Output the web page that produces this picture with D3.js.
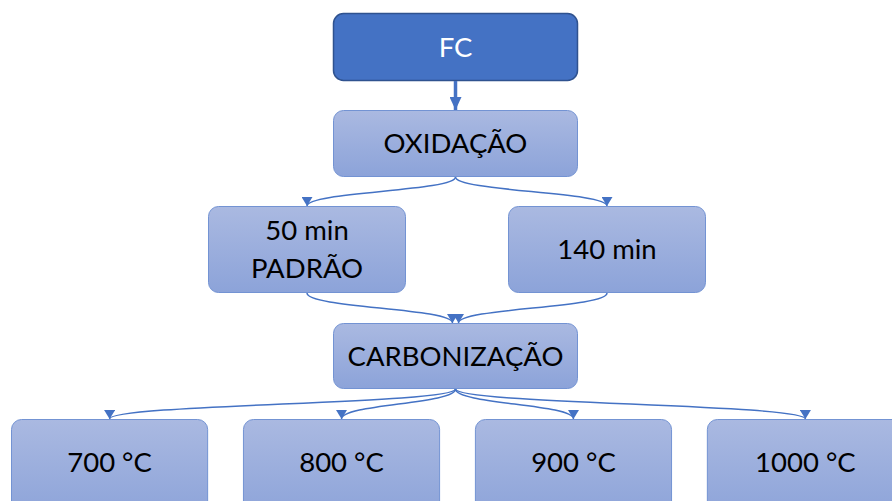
<!DOCTYPE html>
<html><head><meta charset="utf-8">
<script src="https://cdn.jsdelivr.net/npm/d3@7"></script>
<style>html,body{margin:0;padding:0;background:#fff;overflow:hidden}</style>
</head><body>
<svg id="c" width="892" height="501"></svg>
<script>
// ---- data ----
const row0 = ["FC"];
const row1 = ["OXIDAÇÃO"];
const row2 = ["50 min\nPADRÃO", "140 min"];
const row3 = ["CARBONIZAÇÃO"];
const row4 = ["700 °C", "800 °C", "900 °C", "1000 °C"];
const rows = [row0, row1, row2, row3, row4];
const links = [
  ["FC", "OXIDAÇÃO"],
  ["OXIDAÇÃO", "50 min\nPADRÃO"],
  ["OXIDAÇÃO", "140 min"],
  ["50 min\nPADRÃO", "CARBONIZAÇÃO"],
  ["140 min", "CARBONIZAÇÃO"],
  ["CARBONIZAÇÃO", "700 °C"],
  ["CARBONIZAÇÃO", "800 °C"],
  ["CARBONIZAÇÃO", "900 °C"],
  ["CARBONIZAÇÃO", "1000 °C"]
];

// ---- layout ----
const svg = d3.select("#c");
const rowY = d3.scaleOrdinal().domain([0,1,2,3,4]).range([13, 110, 206, 323, 419]);
const rowH = d3.scaleOrdinal().domain([0,1,2,3,4]).range([68, 67, 87, 66, 100]);
const xScales = [
  d3.scaleBand().domain(row0).range([333, 578]),
  d3.scaleBand().domain(row1).range([333, 578]),
  d3.scaleBand().domain(row2).range([208, 706]).paddingInner(0.34),
  d3.scaleBand().domain(row3).range([333, 578]),
  d3.scaleBand().domain(row4).range([11, 904]).paddingInner(0.15)
];
const nodes = [];
rows.forEach((r, i) => r.forEach(label => {
  const xs = xScales[i];
  nodes.push({label, row: i, x: xs(label), w: xs.bandwidth(), y: rowY(i), h: rowH(i)});
}));
const byLabel = new Map(nodes.map(n => [n.label, n]));

const defs = svg.append("defs");
const grad = defs.append("linearGradient").attr("id", "g").attr("x1", 0).attr("y1", 0).attr("x2", 0).attr("y2", 1);
grad.append("stop").attr("offset", "0%").attr("stop-color", "#AAB9E1");
grad.append("stop").attr("offset", "100%").attr("stop-color", "#8CA3D9");
defs.append("marker").attr("id", "arr").attr("viewBox", "0 0 10 10")
  .attr("preserveAspectRatio", "none")
  .attr("refX", 10).attr("refY", 5).attr("markerWidth", 9).attr("markerHeight", 11)
  .attr("markerUnits", "userSpaceOnUse").attr("orient", "auto")
  .append("path").attr("d", "M0,0 L10,5 L0,10 Z").attr("fill", "#4472C4");
defs.append("marker").attr("id", "arrBig").attr("viewBox", "0 0 10 10")
  .attr("preserveAspectRatio", "none")
  .attr("refX", 10).attr("refY", 5).attr("markerWidth", 13).attr("markerHeight", 12)
  .attr("markerUnits", "userSpaceOnUse").attr("orient", "auto")
  .append("path").attr("d", "M0,0 L10,5 L0,10 Z").attr("fill", "#4472C4");

// boxes
const g = svg.append("g").selectAll("g").data(nodes).join("g");
g.append("rect")
  .attr("x", d => d.x + 0.5).attr("y", d => d.y + 0.5)
  .attr("width", d => d.w - 1).attr("height", d => d.h - 1)
  .attr("rx", 10).attr("ry", 10)
  .attr("fill", d => d.row === 0 ? "#4472C4" : "url(#g)")
  .attr("stroke", d => d.row === 0 ? "#2F528F" : "#7393D3")
  .attr("stroke-width", d => d.row === 0 ? 1.5 : 1);

const fontSize = 27.5;
g.each(function(d) {
  const lines = d.label.split("\n");
  const hh = d.row === 4 ? 87 : d.h;
  const cy = d.y + hh / 2;
  const lh = 38;
  const t = d3.select(this).append("text")
    .attr("text-anchor", "middle")
    .attr("font-family", "Lato, 'Open Sans', sans-serif")
    .attr("font-size", fontSize)
    .attr("fill", d.row === 0 ? "#fff" : "#000");
  lines.forEach((ln, i) => {
    t.append("tspan").attr("x", d.x + d.w / 2)
      .attr("y", cy + (i - (lines.length - 1) / 2) * lh)
      .attr("dy", "0.35em").text(ln);
  });
});

// links
const linkGen = d3.linkVertical();
const lg = svg.append("g").attr("fill", "none").attr("stroke", "#4472C4");
links.forEach(([s, t]) => {
  const a = byLabel.get(s), b = byLabel.get(t);
  if (a.row === 0) {
    lg.append("line")
      .attr("x1", a.x + a.w / 2).attr("y1", a.y + a.h)
      .attr("x2", b.x + b.w / 2).attr("y2", b.y)
      .attr("stroke-width", 3.5).attr("marker-end", "url(#arrBig)");
    return;
  }
  const sx = a.x + a.w / 2, sy = a.y + a.h;
  let tx = b.x + b.w / 2;
  if (a.row === 2) tx += (sx < tx ? -3 : 3);
  lg.append("path")
    .attr("d", linkGen({source: [sx, sy], target: [tx, b.y]}))
    .attr("stroke-width", 1.5).attr("marker-end", "url(#arr)");
});
</script>
</body></html>
